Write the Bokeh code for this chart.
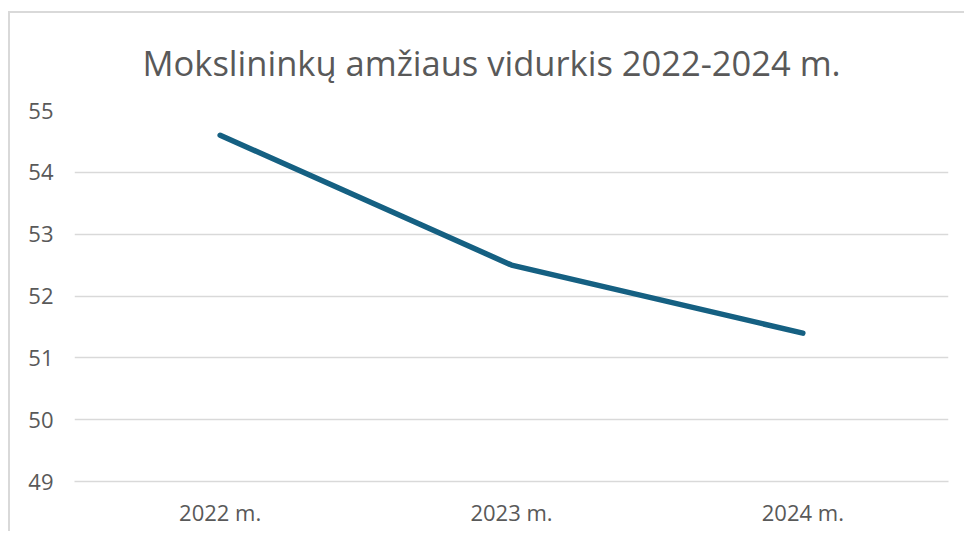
from bokeh.plotting import figure
from bokeh.models import Title, FixedTicker
from bokeh.embed import file_html
from bokeh.resources import INLINE

categories = ["2022 m.", "2023 m.", "2024 m."]
values = [54.6, 52.5, 51.4]
y_ticks = [49, 50, 51, 52, 53, 54, 55]
title_text = "Mokslininkų amžiaus vidurkis 2022-2024 m."

FONT = "Open Sans"
GREY = "#595959"

p = figure(x_range=categories, y_range=(49, 55), width=956, height=520,
           output_backend="svg", toolbar_location=None,
           min_border_left=64, min_border_right=18, min_border_top=97, min_border_bottom=52)
p.styles = {"border-left": "2px solid #d9d9d9", "border-top": "2px solid #d9d9d9",
            "margin-top": "11px", "margin-left": "8px"}
p.outline_line_color = None
p.background_fill_color = "white"
p.border_fill_color = "white"

t = Title(text=title_text, align="left", vertical_align="middle", text_font=FONT,
          text_font_size="34.5px", text_font_style="normal", text_color=GREY,
          standoff=47, offset=68)
p.add_layout(t, "above")

p.line(x=categories, y=values, line_color="#156082", line_width=5.5,
       line_cap="round", line_join="round")

p.xgrid.grid_line_color = None
p.ygrid.grid_line_color = "#d9d9d9"
p.ygrid.grid_line_width = 1.5
p.yaxis.ticker = FixedTicker(ticks=y_ticks)

for ax in (p.xaxis[0], p.yaxis[0]):
    ax.axis_line_color = None
    ax.major_tick_line_color = None
    ax.minor_tick_line_color = None
    ax.major_label_text_font = FONT
    ax.major_label_text_font_size = "22px"
    ax.major_label_text_color = GREY
p.xaxis.axis_line_color = "#d9d9d9"
p.xaxis.axis_line_width = 1.5
p.yaxis.major_label_standoff = 15
p.xaxis.major_label_standoff = 9

open("out.html", "w").write(file_html(p, INLINE))
